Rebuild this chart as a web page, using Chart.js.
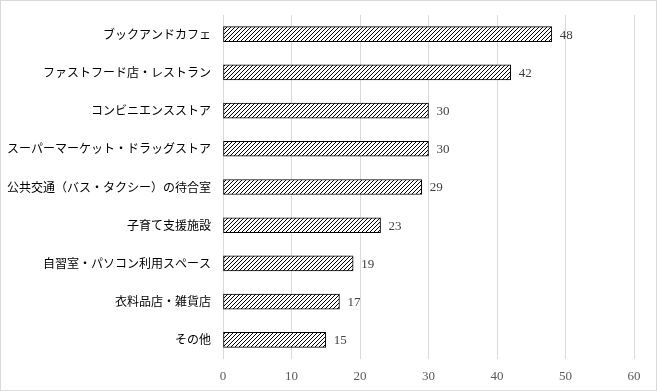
<!DOCTYPE html>
<html>
<head>
<meta charset="utf-8">
<script src="https://cdn.jsdelivr.net/npm/chart.js@4/dist/chart.umd.min.js"></script>
<style>
  html, body { margin: 0; padding: 0; background: #fff; }
  #wrap { width: 657px; height: 391px; box-sizing: border-box; border: 1px solid #d9d9d9; background: #fff; }
  #wrap canvas { display: block; }
</style>
</head>
<body>
<div id="wrap"><canvas id="barChart" width="655" height="389"></canvas></div>
<script>
// categories and values
const places = [
  'ブックアンドカフェ',
  'ファストフード店・レストラン',
  'コンビニエンスストア',
  'スーパーマーケット・ドラッグストア',
  '公共交通（バス・タクシー）の待合室',
  '子育て支援施設',
  '自習室・パソコン利用スペース',
  '衣料品店・雑貨店',
  'その他'
];
const counts = [48, 42, 30, 30, 29, 23, 19, 17, 15];
const xTicks = [0, 10, 20, 30, 40, 50, 60];

// diagonal hatch fill like the original
function makeHatch() {
  const c = document.createElement('canvas');
  c.width = 4;
  c.height = 4;
  const g = c.getContext('2d');
  g.fillStyle = '#fff';
  g.fillRect(0, 0, 4, 4);
  g.fillStyle = '#000';
  for (let i = 0; i < 4; i++) {
    g.fillRect(i, 3 - i, 1, 1);
  }
  return g.createPattern(c, 'repeat');
}

// value labels to the right of each bar
const valueLabels = {
  id: 'valueLabels',
  afterDatasetsDraw(chart) {
    const ctx = chart.ctx;
    const meta = chart.getDatasetMeta(0);
    ctx.save();
    ctx.font = '13px "Liberation Serif", "DejaVu Serif", serif';
    ctx.fillStyle = '#404040';
    ctx.textAlign = 'left';
    ctx.textBaseline = 'middle';
    meta.data.forEach(function(bar, i) {
      ctx.fillText(String(counts[i]), bar.x + 8, bar.y + 1);
    });
    ctx.restore();
  }
};

const ctx = document.getElementById('barChart').getContext('2d');

new Chart(ctx, {
  type: 'bar',
  data: {
    labels: places,
    datasets: [
      {
        data: counts,
        backgroundColor: makeHatch(),
        borderColor: '#000',
        borderWidth: 1,
        borderSkipped: false,
        barThickness: 15
      }
    ]
  },
  options: {
    indexAxis: 'y',
    responsive: false,
    animation: false,
    layout: {
      padding: { top: 14, right: 22, bottom: 0, left: 0 }
    },
    plugins: {
      legend: { display: false },
      tooltip: { enabled: false }
    },
    scales: {
      x: {
        min: 0,
        max: 60,
        afterBuildTicks: function(scale) {
          scale.ticks = xTicks.map(function(v) { return { value: v }; });
        },
        grid: { color: '#d9d9d9', drawTicks: false },
        border: { display: false },
        ticks: {
          padding: 10,
          color: '#595959',
          font: { family: '"Liberation Serif", "DejaVu Serif", serif', size: 13 }
        },
        afterFit: function(scale) {
          scale.height = 31;
          scale.paddingLeft = 0;
          scale.paddingRight = 0;
        }
      },
      y: {
        grid: { display: false, drawTicks: false },
        border: { display: false },
        ticks: {
          padding: 12,
          color: '#000',
          font: { family: '"Noto Sans CJK JP", sans-serif', size: 12 }
        },
        afterFit: function(scale) {
          scale.width = 222;
          scale.paddingTop = 0;
          scale.paddingBottom = 0;
        }
      }
    }
  },
  plugins: [valueLabels]
});
</script>
</body>
</html>
